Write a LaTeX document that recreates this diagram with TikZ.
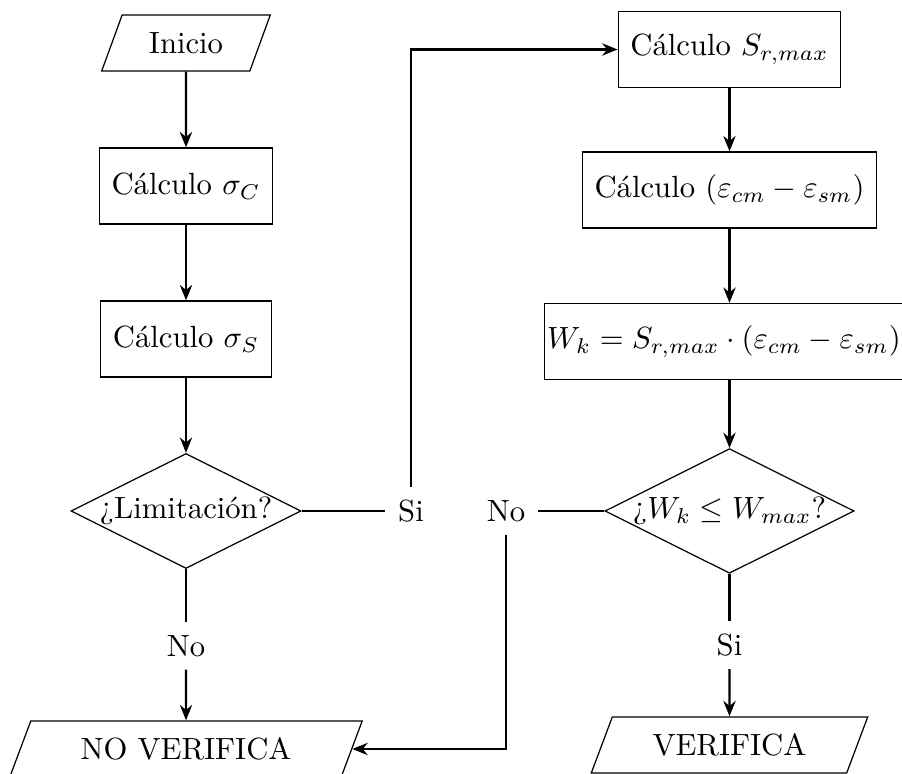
\documentclass[tikz,border=0pt]{standalone}
\usepackage{amsmath, amssymb}
\usetikzlibrary{shapes.geometric,arrows.meta}

\tikzset{
  caja/.style={rectangle,draw,minimum height=24.8pt,inner xsep=4pt},
  io/.style={trapezium,draw,trapezium left angle=70,trapezium right angle=110,
    trapezium stretches=true,minimum height=18.3pt},
  decision/.style={diamond,draw,aspect=2,inner sep=0pt},
  etiqueta/.style={inner sep=4pt},
  flecha/.style={thick,-{Stealth[length=5pt,width=4pt]}},
  linea/.style={thick}
}

\begin{document}
\begin{tikzpicture}[x=0.326pt,y=-0.326pt]
    \useasboundingbox (0,0) rectangle (902,774);

    % Left column
    \node[io,minimum width=55.1pt] (inicio) at (186,43) {Inicio};
    \node[caja,minimum width=54.8pt] (sigc) at (186,186) {Cálculo $\sigma_C$};
    \node[caja,minimum width=54.8pt] (sigs) at (186,339) {Cálculo $\sigma_S$};
    \node[decision,minimum width=75pt,minimum height=37.5pt] (lim) at (186,511) {¿Limitación?};
    \node[etiqueta] (si1) at (411,511) {Si};
    \node[etiqueta] (no1) at (186,646) {No};
    \node[io,minimum width=115.7pt] (novf) at (186,749) {NO VERIFICA};

    % Right column
    \node[caja,minimum width=70.1pt] (sr) at (729.5,49.5) {Cálculo $S_{r,max}$};
    \node[caja,minimum width=94.2pt] (eps) at (729.5,190) {Cálculo $(\varepsilon_{cm}-\varepsilon_{sm})$};
    \node[caja,minimum width=115.4pt,inner xsep=1pt] (wk) at (724,341.5)
      {$W_k=S_{r,max}\cdot(\varepsilon_{cm}-\varepsilon_{sm})$};
    \node[decision,minimum width=80.2pt,minimum height=39.8pt] (wd) at (729.5,511) {¿$W_k\leq W_{max}$?};
    \node[etiqueta] (no2) at (506,511) {No};
    \node[etiqueta] (si2) at (729.5,645) {Si};
    \node[io,minimum width=90.3pt] (vf) at (729.5,745) {VERIFICA};

    % Flow on the left
    \draw[flecha] (inicio) -- (sigc);
    \draw[flecha] (sigc) -- (sigs);
    \draw[flecha] (sigs) -- (lim);
    \draw[linea] (lim) -- (si1);
    \draw[flecha] (si1) |- (sr);
    \draw[linea] (lim) -- (no1);
    \draw[flecha] (no1) -- (novf);

    % Flow on the right
    \draw[flecha] (sr) -- (eps);
    \draw[flecha] (eps) -- (eps |- wk.north);
    \draw[flecha] (wk.south -| eps) -- (wd);
    \draw[linea] (wd) -- (no2);
    \draw[flecha] (no2) |- (novf);
    \draw[linea] (wd) -- (si2);
    \draw[flecha] (si2) -- (vf);

\end{tikzpicture}
\end{document}
